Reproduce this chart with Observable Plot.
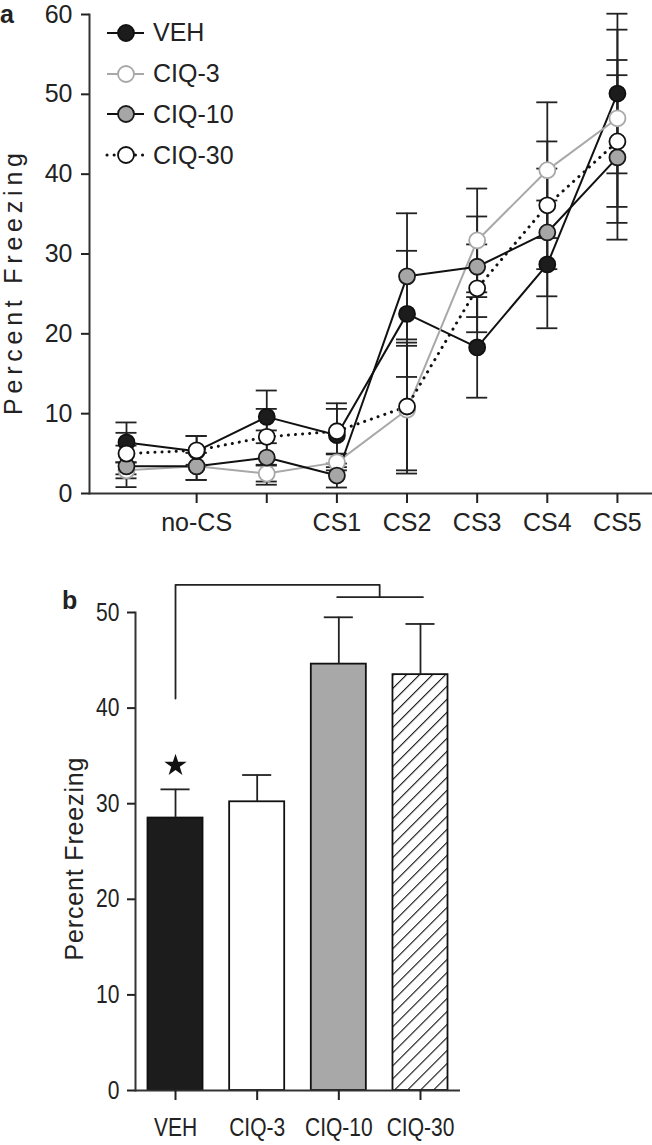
<!DOCTYPE html>
<html><head><meta charset="utf-8">
<script src="https://cdn.jsdelivr.net/npm/d3@7"></script>
<script src="https://cdn.jsdelivr.net/npm/@observablehq/plot@0.6"></script>
<style>
body{margin:0;background:#fff;width:652px;height:1145px;position:relative;overflow:hidden;font-family:"Liberation Sans",Arial,sans-serif;color:#222}
#a,#b{position:absolute;left:0}
#a{top:0}
#b{top:560px}
.plabel{position:absolute;font-weight:bold;font-size:25px;line-height:28px}
#legend{position:absolute;left:105px;top:12.6px}
.row{display:flex;align-items:center;height:40.7px}
.row svg{width:42px;height:20px;margin-right:6px;display:block}
.row span{font-size:25px;line-height:1}
</style></head><body>
<div id="a"></div><div id="b"></div>
<div class="plabel" style="left:0;top:0">a</div>
<div class="plabel" style="left:62px;top:586px">b</div>
<div id="legend"></div>
<script>
// ---------- Panel a data ----------
const trials = ["pre1", "pre2", "pre3", "CS1", "CS2", "CS3", "CS4", "CS5"];
const tickPositions = [2, 3, 4, 5, 6, 7, 8];
const tickLabels = ["no-CS", "", "CS1", "CS2", "CS3", "CS4", "CS5"];
const vehMean   = [6.4, 5.3, 9.6, 7.3, 22.5, 18.3, 28.7, 50.1];
const vehSem    = [2.5, 1.9, 3.3, 4.0, 7.9, 6.3, 8.0, 10.0];
const ciq3Mean  = [2.9, 3.4, 2.5, 3.9, 10.5, 31.7, 40.5, 47.0];
const ciq3Sem   = [1.0, 1.7, 1.0, 1.0, 8.0, 6.5, 8.5, 11.1];
const ciq10Mean = [3.4, 3.4, 4.5, 2.25, 27.2, 28.4, 32.7, 42.1];
const ciq10Sem  = [2.6, 1.7, 3.4, 1.5, 7.9, 6.3, 8.0, 10.3];
const ciq30Mean = [5.0, 5.4, 7.1, 7.8, 10.9, 25.7, 36.1, 44.1];
const ciq30Sem  = [2.6, 1.8, 3.5, 2.8, 8.0, 5.5, 8.0, 10.2];

// ---------- Panel b data ----------
const groups = ["VEH", "CIQ-3", "CIQ-10", "CIQ-30"];
const groupMean = [28.5, 30.2, 44.6, 43.5];
const groupSem = [3.0, 2.8, 4.9, 5.3];
const starGroup = "VEH";
const starValue = 34.0;
const bracketLeft = "VEH";
const bracketRight = ["CIQ-10", "CIQ-30"];
const bracketBottom = 41, bracketTop = 52.9, bracketJoin = 51.6;

// ---------- styles ----------
const seriesStyle = [
  {name: "VEH",    mean: vehMean,   sem: vehSem,   line: "#111", width: 2,   dash: null,    cap: "butt",  fill: "#1c1c1c", dot: "#111"},
  {name: "CIQ-3",  mean: ciq3Mean,  sem: ciq3Sem,  line: "#a8a8a8", width: 2, dash: null,   cap: "butt",  fill: "#ffffff", dot: "#a8a8a8"},
  {name: "CIQ-10", mean: ciq10Mean, sem: ciq10Sem, line: "#111", width: 2,   dash: null,    cap: "butt",  fill: "#a6a6a6", dot: "#1a1a1a"},
  {name: "CIQ-30", mean: ciq30Mean, sem: ciq30Sem, line: "#111", width: 3,   dash: "0.1 7", cap: "round", fill: "#ffffff", dot: "#111"}
];
const dotOrder = ["CIQ-3", "CIQ-10", "VEH", "CIQ-30"];
const barFills = {"VEH": "#1c1c1c", "CIQ-3": "#ffffff", "CIQ-10": "#a8a8a8", "CIQ-30": "url(#hatch)"};
const ink = "#222";

const rows = seriesStyle.flatMap(s => s.mean.map((m, i) => ({name: s.name, x: i + 1, trial: trials[i], m, se: s.sem[i]})));
const labelMap = new Map(tickPositions.map((p, i) => [p, tickLabels[i]]));
const capA = 0.15;

const marksA = [
  Plot.ruleX(rows, {x: "x", y1: d => d.m - d.se, y2: d => d.m + d.se, stroke: ink, strokeWidth: 1.8}),
  Plot.ruleY(rows, {y: d => d.m + d.se, x1: d => d.x - capA, x2: d => d.x + capA, stroke: ink, strokeWidth: 1.8}),
  Plot.ruleY(rows, {y: d => d.m - d.se, x1: d => d.x - capA, x2: d => d.x + capA, stroke: ink, strokeWidth: 1.8}),
  ...seriesStyle.map(s => Plot.line(rows.filter(r => r.name === s.name), {
    x: "x", y: "m", stroke: s.line, strokeWidth: s.width, strokeDasharray: s.dash, strokeLinecap: s.cap
  })),
  ...dotOrder.map(n => {
    const s = seriesStyle.find(t => t.name === n);
    return Plot.dot(rows.filter(r => r.name === n), {x: "x", y: "m", r: 8, fill: s.fill, stroke: s.dot, strokeWidth: 1.8});
  }),
  Plot.ruleY([0], {stroke: "#333", strokeWidth: 2}),
  Plot.frame({anchor: "left", stroke: "#333", strokeWidth: 2}),
  Plot.axisY({ticks: [0, 10, 20, 30, 40, 50, 60], tickFormat: d => String(d), tickSize: 8, tickPadding: 9, fontSize: 25, strokeWidth: 2, label: null}),
  Plot.axisX({ticks: tickPositions, tickFormat: d => labelMap.get(d), tickSize: 10, tickPadding: 10, fontSize: 25, strokeWidth: 2, label: null}),
  Plot.text(["Percent Freezing"], {text: d => d, frameAnchor: "left", textAnchor: "middle", rotate: -90, dx: -76, dy: 30, fontSize: 25, fill: ink})
];

const plotA = Plot.plot({
  width: 652, height: 560,
  marginLeft: 89, marginRight: 0, marginTop: 14, marginBottom: 67,
  x: {type: "linear", domain: [0.4725, 8.5]},
  y: {domain: [0, 60]},
  style: {fontFamily: '"Liberation Sans", Arial, sans-serif', fontSize: "25px", color: ink, background: "#fff", overflow: "visible"},
  marks: marksA
});
document.getElementById("a").appendChild(plotA);

// ---------- Panel b ----------
const bars = groups.map((g, i) => ({g, i, m: groupMean[i], se: groupSem[i]}));
const barHalf = 0.337, capB = 0.178;
const gi = g => groups.indexOf(g);
const bx = gi(bracketLeft);
const bMid = (gi(bracketRight[0]) + gi(bracketRight[1])) / 2;
const bracketPath = [
  {x: bx, y: bracketBottom}, {x: bx, y: bracketTop}, {x: bMid, y: bracketTop}, {x: bMid, y: bracketJoin}
];
const bracketBar = [{x: gi(bracketRight[0]) - 0.02, y: bracketJoin}, {x: gi(bracketRight[1]) + 0.03, y: bracketJoin}];

const marksB = [
  ...bars.map(d => Plot.rectY([d], {x1: d => d.i - barHalf, x2: d => d.i + barHalf, y1: 0, y2: "m", fill: barFills[d.g], stroke: "#111", strokeWidth: 1.8})),
  Plot.ruleX(bars, {x: "i", y1: "m", y2: d => d.m + d.se, stroke: ink, strokeWidth: 1.8}),
  Plot.ruleY(bars, {y: d => d.m + d.se, x1: d => d.i - capB, x2: d => d.i + capB, stroke: ink, strokeWidth: 1.8}),
  Plot.dot([{x: gi(starGroup), y: starValue}], {x: "x", y: "y", symbol: "star", r: 7, fill: "#111"}),
  Plot.line(bracketPath, {x: "x", y: "y", stroke: ink, strokeWidth: 1.8}),
  Plot.line(bracketBar, {x: "x", y: "y", stroke: ink, strokeWidth: 1.8}),
  Plot.ruleY([0], {stroke: "#333", strokeWidth: 2}),
  Plot.frame({anchor: "left", stroke: "#333", strokeWidth: 2}),
  Plot.axisY({ticks: [0, 10, 20, 30, 40, 50], tickFormat: d => String(d), tickSize: 8, tickPadding: 8, fontSize: 25, strokeWidth: 2, label: null}),
  Plot.axisX({ticks: groups.map((g, i) => i), tickFormat: i => groups[i], tickSize: 10, tickPadding: 18, fontSize: 25, strokeWidth: 2, label: null}),
  Plot.text(["Percent Freezing"], {text: d => d, frameAnchor: "left", textAnchor: "middle", rotate: -90, dx: -61, dy: 7.5, fontSize: 25, fill: ink})
];

const plotB = Plot.plot({
  width: 652, height: 585,
  marginLeft: 135, marginRight: 192, marginTop: 52, marginBottom: 55,
  x: {type: "linear", domain: [-0.49, 3.49]},
  y: {domain: [0, 50]},
  style: {fontFamily: '"Liberation Sans", Arial, sans-serif', fontSize: "25px", color: ink, background: "#fff", overflow: "visible"},
  marks: marksB
});
// hatch pattern
const defs = d3.select(plotB).insert("defs", ":first-child");
const pat = defs.append("pattern").attr("id", "hatch").attr("patternUnits", "userSpaceOnUse")
  .attr("width", 9.2).attr("height", 9.2).attr("patternTransform", "rotate(45)");
pat.append("rect").attr("width", 9.2).attr("height", 9.2).attr("fill", "#fff");
pat.append("line").attr("x1", 0).attr("y1", 0).attr("x2", 0).attr("y2", 9.2).attr("stroke", "#111").attr("stroke-width", 2.2);
document.getElementById("b").appendChild(plotB);

// stretch the y labels to the reference's length
d3.select(plotA).selectAll("text").filter(function() { return this.textContent === "Percent Freezing"; })
  .attr("textLength", 262).attr("lengthAdjust", "spacing");
d3.select(plotB).selectAll("text").filter(function() { return this.textContent === "Percent Freezing"; })
  .attr("textLength", 203).attr("lengthAdjust", "spacing");
// panel b uses a condensed face: narrow its tick labels
d3.select(plotB).selectAll('g[aria-label="x-axis tick label"] text, g[aria-label="y-axis tick label"] text')
  .each(function() {
    const w = this.getComputedTextLength();
    if (w > 0) d3.select(this).attr("textLength", (w * 0.84).toFixed(1)).attr("lengthAdjust", "spacingAndGlyphs");
  });

// ---------- legend ----------
const legend = d3.select("#legend");
for (const s of seriesStyle) {
  const row = legend.append("div").attr("class", "row");
  const sv = row.append("svg").attr("viewBox", "0 0 42 20");
  sv.append("line").attr("x1", 2).attr("x2", 39).attr("y1", 10).attr("y2", 10)
    .attr("stroke", s.line).attr("stroke-width", s.width)
    .attr("stroke-dasharray", s.dash).attr("stroke-linecap", s.cap);
  sv.append("circle").attr("cx", 21).attr("cy", 10).attr("r", 8).attr("fill", s.fill).attr("stroke", s.dot).attr("stroke-width", 1.8);
  row.append("span").text(s.name);
}
</script>
</body></html>
